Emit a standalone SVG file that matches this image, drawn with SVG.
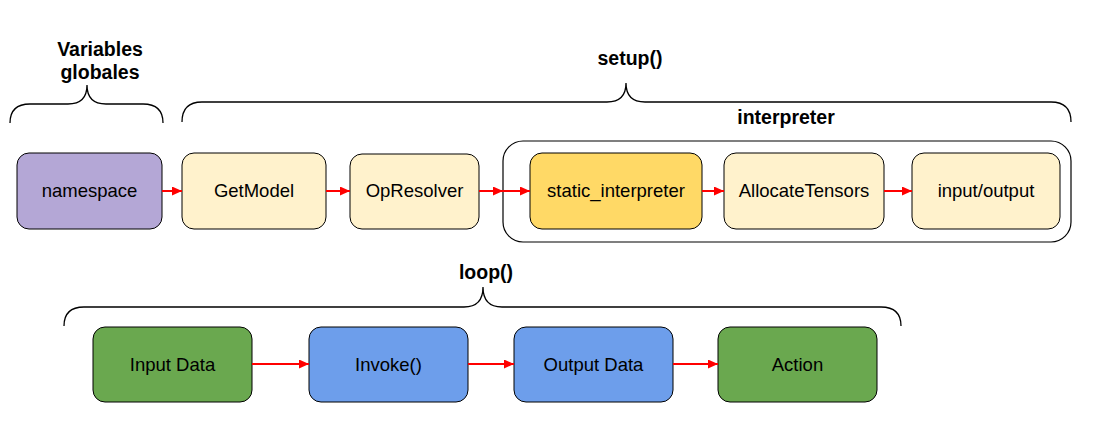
<svg xmlns="http://www.w3.org/2000/svg" width="1107" height="446" viewBox="0 0 1107 446">
<style>
.node{stroke:#000;stroke-width:1}
.lbl{font-family:"Liberation Sans",Arial,sans-serif;font-size:18.5px;fill:#000;text-anchor:middle}
.title{font-family:"Liberation Sans",Arial,sans-serif;font-size:19.5px;font-weight:bold;fill:#000;text-anchor:middle}
.brace{fill:none;stroke:#000;stroke-width:1.3}
.arrow{stroke:#ff0000;stroke-width:2;fill:none;marker-end:url(#ah)}
</style>
<defs>
<marker id="ah" markerUnits="userSpaceOnUse" markerWidth="11" markerHeight="10" refX="10" refY="4.5" orient="auto">
<path d="M0,0 L10,4.5 L0,9 z" fill="#ff0000"/>
</marker>
</defs>
<rect width="1107" height="446" fill="#fff"/>

<g id="braces">
<path class="brace" d="M10,123 Q10,104 30,104 H68 C80,104 87,98 87,85 C87,98 94,104 106,104 H143 Q163,104 163,123"/>
<path class="brace" d="M182,122 Q182,102 202,102 H607 C619,102 626,96 626,83 C626,96 633,102 645,102 H1051 Q1071,102 1071,122"/>
<path class="brace" d="M64,326 Q64,307 84,307 H464 C476,307 483,301 483,287 C483,301 490,307 502,307 H881 Q901,307 901,326"/>
</g>

<g id="titles">
<text class="title" x="100" y="56">Variables</text>
<text class="title" x="100" y="79">globales</text>
<text class="title" x="630" y="65">setup()</text>
<text class="title" x="786" y="124">interpreter</text>
<text class="title" x="486" y="279">loop()</text>
</g>

<g id="interpreter-group">
<rect x="503" y="141" width="568" height="101" rx="20" fill="none" stroke="#000" stroke-width="1.2"/>
</g>

<g id="namespace">
<rect class="node" x="17" y="153" width="145" height="76" rx="12" fill="#b4a7d6"/>
<text class="lbl" x="89.5" y="197">namespace</text>
</g>
<g id="getmodel">
<rect class="node" x="182" y="153" width="144" height="76" rx="12" fill="#fff2cc"/>
<text class="lbl" x="254" y="197">GetModel</text>
</g>
<g id="opresolver">
<rect class="node" x="350" y="154" width="129" height="75" rx="12" fill="#fff2cc"/>
<text class="lbl" x="414.5" y="197">OpResolver</text>
</g>
<g id="static_interpreter">
<rect class="node" x="530" y="153" width="172" height="76" rx="12" fill="#ffd966"/>
<text class="lbl" x="616" y="197">static_interpreter</text>
</g>
<g id="allocatetensors">
<rect class="node" x="724" y="153" width="160" height="76" rx="12" fill="#fff2cc"/>
<text class="lbl" x="804" y="197">AllocateTensors</text>
</g>
<g id="inputoutput">
<rect class="node" x="912" y="153" width="148" height="76" rx="12" fill="#fff2cc"/>
<text class="lbl" x="986" y="197">input/output</text>
</g>

<g id="inputdata">
<rect class="node" x="93" y="327" width="159" height="75" rx="12" fill="#6aa84f"/>
<text class="lbl" x="172.5" y="371">Input Data</text>
</g>
<g id="invoke">
<rect class="node" x="309" y="327" width="159" height="75" rx="12" fill="#6d9eeb"/>
<text class="lbl" x="388.5" y="371">Invoke()</text>
</g>
<g id="outputdata">
<rect class="node" x="514" y="327" width="159" height="75" rx="12" fill="#6d9eeb"/>
<text class="lbl" x="593.5" y="371">Output Data</text>
</g>
<g id="action">
<rect class="node" x="718" y="327" width="159" height="75" rx="12" fill="#6aa84f"/>
<text class="lbl" x="797.5" y="371">Action</text>
</g>

<g id="connectors">
<line class="arrow" x1="162" y1="191" x2="182" y2="191"/>
<line class="arrow" x1="326" y1="191" x2="350" y2="191"/>
<line class="arrow" x1="479" y1="191" x2="503" y2="191"/>
<line class="arrow" x1="503" y1="191" x2="530" y2="191"/>
<line class="arrow" x1="702" y1="191" x2="724" y2="191"/>
<line class="arrow" x1="884" y1="191" x2="912" y2="191"/>
<line class="arrow" x1="252" y1="364" x2="309" y2="364"/>
<line class="arrow" x1="468" y1="364" x2="514" y2="364"/>
<line class="arrow" x1="673" y1="364" x2="718" y2="364"/>
</g>
</svg>
